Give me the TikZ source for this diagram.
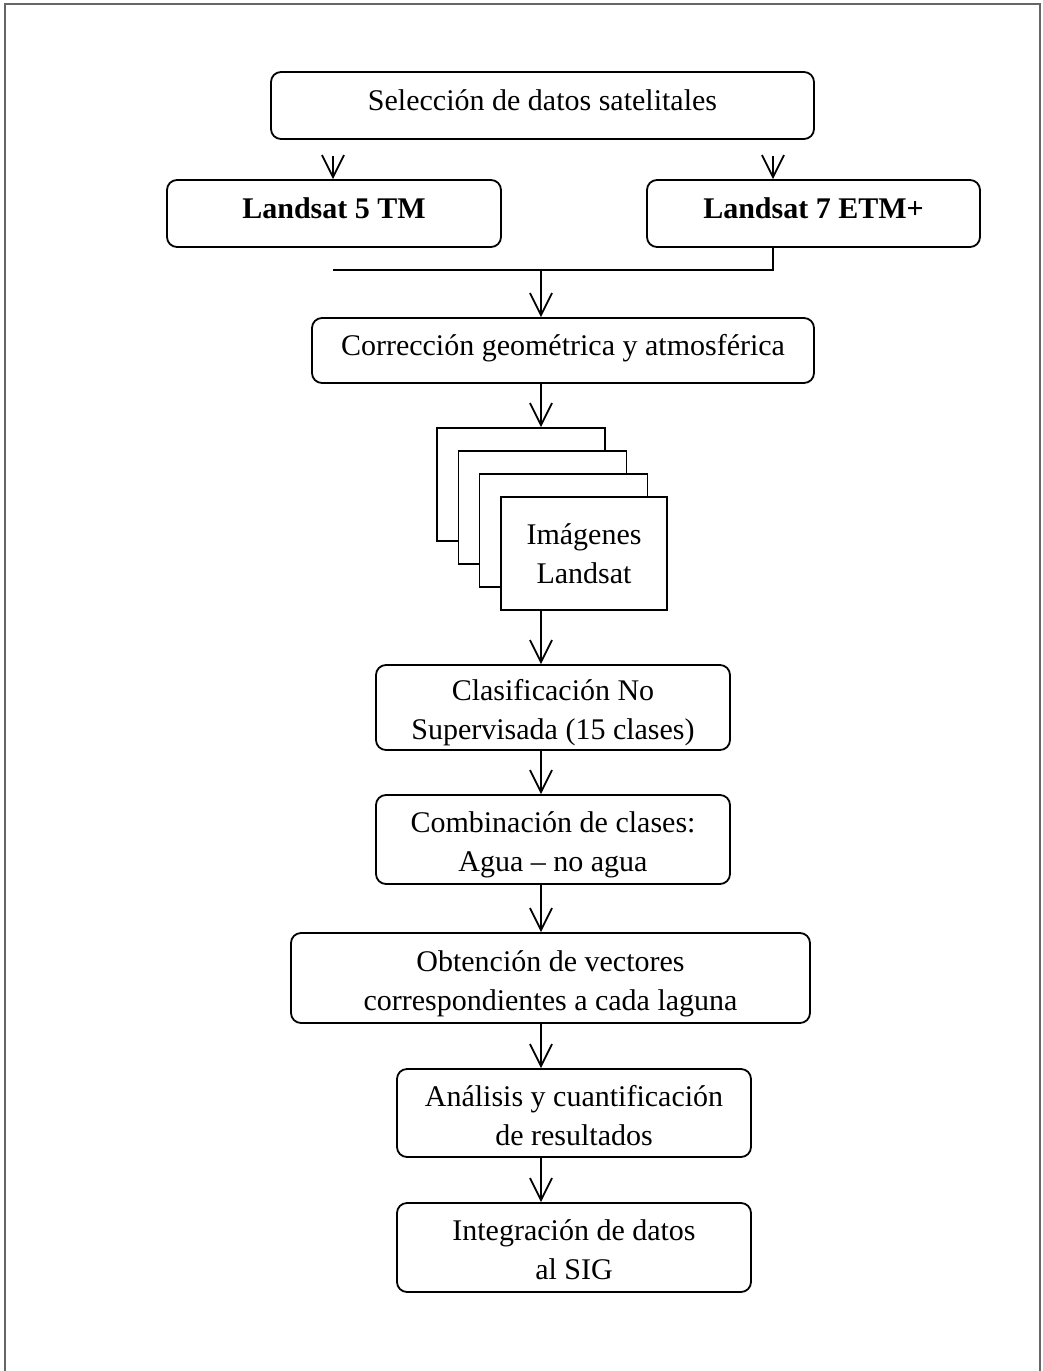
\documentclass[tikz,border=0pt]{standalone}
\usepackage{fontspec}
\setmainfont{Liberation Serif}
\usetikzlibrary{arrows.meta}

\begin{document}
\begin{tikzpicture}[
  x=0.5pt, y=-0.5pt,
  bnode/.style={draw,rounded corners=5pt,line width=0.9pt,align=center,inner sep=2pt,font=\fontsize{15}{19.5}\selectfont},
  onel/.style={text height=11pt,text depth=6pt},
  twol/.style={text height=35pt,text depth=3pt,inner ysep=0pt},
  lnode/.style={bnode,onel,font=\fontsize{15}{19.5}\selectfont\bfseries},
  inode/.style={draw,fill=white,line width=0.9pt,minimum width=84pt,minimum height=56.5pt,inner sep=2pt,align=center,font=\fontsize{15}{19.5}\selectfont},
  arr/.style={line width=0.9pt,-{Straight Barb[length=11pt,width=11pt]}}
]
  \useasboundingbox (0,0) rectangle (1043,1371);
  % frame
  \draw[line width=1pt,black!60] (5,1371) -- (5,4) -- (1040,4) -- (1040,1371);

  % data selection
  \node[bnode,onel,minimum width=271.5pt,minimum height=33.5pt] (sel) at (542.5,105.5) {Selección de datos satelitales};
  \node[lnode,minimum width=167pt,minimum height=33.5pt] (l5) at (334,213.5) {Landsat 5 TM};
  \node[lnode,minimum width=166.5pt,minimum height=33.5pt] (l7) at (813.5,213.5) {Landsat 7 ETM+};
  \node[bnode,onel,minimum width=251pt,minimum height=32.5pt] (corr) at (563,350.5) {Corrección geométrica y atmosférica};

  % image stack
  \node[inode] (img1) at (521,484.5) {};
  \node[inode] (img2) at (542.5,507.5) {};
  \node[inode] (img3) at (563.5,530.5) {};
  \node[inode,minimum width=83pt] (img) at (584,553.5) {Imágenes\\Landsat};

  % processing
  \node[bnode,twol,minimum width=177pt,minimum height=42.5pt] (clas) at (553,707.5) {Clasificación No\\Supervisada (15 clases)};
  \node[bnode,twol,minimum width=177pt,minimum height=44.5pt] (comb) at (553,839.5) {Combinación de clases:\\Agua -- no agua};
  \node[bnode,twol,minimum width=259.5pt,minimum height=45pt] (vect) at (550.5,978) {Obtención de vectores\\correspondientes a cada laguna};
  \node[bnode,twol,minimum width=177pt,minimum height=44pt] (anal) at (574,1113) {Análisis y cuantificación\\de resultados};
  \node[bnode,twol,minimum width=177pt,minimum height=44.5pt] (sig) at (574,1247.5) {Integración de datos\\al SIG};

  % connector points
  \coordinate (spine) at (541,0);
  \coordinate (a5) at (333,156);
  \coordinate (a7) at (773,156);
  \coordinate (mleft) at (333,270);

  % edges
  \draw[arr] (a5) -- (a5 |- l5.north);
  \draw[arr] (a7) -- (a7 |- l7.north);
  \draw[line width=0.9pt] (l7.south -| a7) |- (mleft);
  \draw[arr] (mleft -| spine) -- (corr.north -| spine);
  \draw[arr] (corr.south -| spine) -- (img1.north -| spine);
  \draw[arr] (img.south -| spine) -- (clas.north -| spine);
  \draw[arr] (clas.south -| spine) -- (comb.north -| spine);
  \draw[arr] (comb.south -| spine) -- (vect.north -| spine);
  \draw[arr] (vect.south -| spine) -- (anal.north -| spine);
  \draw[arr] (anal.south -| spine) -- (sig.north -| spine);
\end{tikzpicture}
\end{document}
